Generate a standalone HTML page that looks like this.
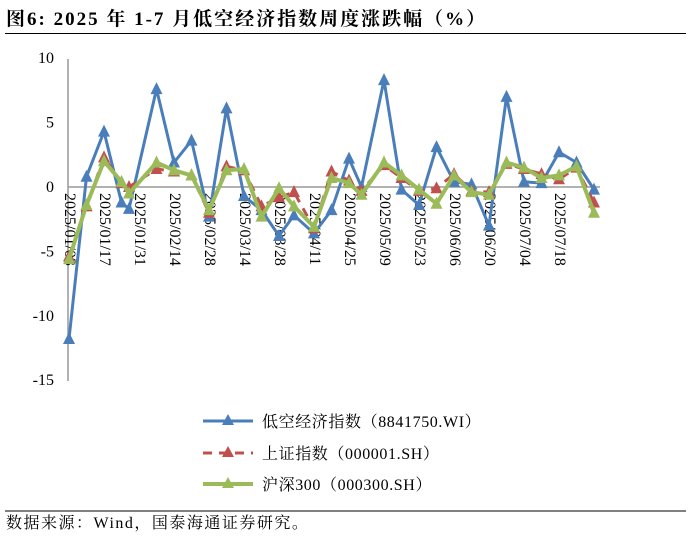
<!DOCTYPE html>
<html><head><meta charset="utf-8"><style>
body{margin:0;background:#fff;}
svg text{font-family:"Liberation Serif","Noto Serif CJK SC","Noto Sans CJK SC",serif;}
</style></head><body>
<svg id="chart" width="691" height="541" viewBox="0 0 691 541" xmlns="http://www.w3.org/2000/svg">
<text x="6" y="25" font-size="19" font-weight="bold" letter-spacing="2" fill="#000">图6:  2025 年 1-7 月低空经济指数周度涨跌幅（%）</text>
<line x1="5" y1="33.5" x2="686" y2="33.5" stroke="#000" stroke-width="1"/>
<line x1="68" y1="59" x2="68" y2="381" stroke="#999" stroke-width="1.5"/>
<g id="yticks"></g>
<g id="xlabels"></g>
<line id="zero" x1="68" x2="600" stroke="#999" stroke-width="1.5"/>
<g id="series"></g>
<g>
 <g>
  <line x1="203" y1="421" x2="253" y2="421" stroke="#4a7ebb" stroke-width="3"/>
  <polygon points="228,414 222,425 234,425" fill="#4a7ebb"/>
  <text x="262" y="427" font-size="16" letter-spacing="0.6">低空经济指数（8841750.WI）</text>
 </g>
 <g>
  <line x1="203" y1="453" x2="253" y2="453" stroke="#c0504d" stroke-width="3" stroke-dasharray="9,7"/>
  <polygon points="228,446 222,457 234,457" fill="#c0504d"/>
  <text x="262" y="459" font-size="16" letter-spacing="0.6">上证指数（000001.SH）</text>
 </g>
 <g>
  <line x1="203" y1="484" x2="253" y2="484" stroke="#9bbb59" stroke-width="4"/>
  <polygon points="228,477 222,488 234,488" fill="#9bbb59"/>
  <text x="262" y="490" font-size="16" letter-spacing="0.6">沪深300（000300.SH）</text>
 </g>
</g>
<line x1="5" y1="511" x2="686" y2="511" stroke="#000" stroke-width="1"/>
<text x="6" y="528" font-size="16" letter-spacing="1.5">数据来源：Wind，国泰海通证券研究。</text>
</svg>
<script>
const dates = ["2025/01/03","2025/01/10","2025/01/17","2025/01/24","2025/01/27","2025/02/07","2025/02/14","2025/02/21","2025/02/28","2025/03/07","2025/03/14","2025/03/21","2025/03/28","2025/04/03","2025/04/11","2025/04/18","2025/04/25","2025/04/30","2025/05/09","2025/05/16","2025/05/23","2025/05/30","2025/06/06","2025/06/13","2025/06/20","2025/06/27","2025/07/04","2025/07/11","2025/07/18","2025/07/25","2025/08/01"];
const lowAltitude = [-11.8,0.8,4.3,-1.2,-1.7,7.6,1.9,3.6,-2.3,6.1,-0.7,-1.8,-3.8,-2.2,-3.6,-1.8,2.2,0.0,8.3,-0.2,-1.4,3.1,0.4,0.2,-3.0,7.0,0.4,0.3,2.7,1.9,-0.2];
const sse = [-5.4,-1.5,2.3,0.3,0.0,1.4,1.2,0.9,-2.0,1.6,1.3,-1.5,-0.8,-0.4,-3.2,1.2,0.5,-0.3,1.7,0.7,-0.3,-0.1,1.0,-0.3,-0.4,1.8,1.4,1.0,0.6,1.5,-1.2];
const csi300 = [-5.6,-1.4,2.0,0.4,-0.5,1.9,1.3,0.9,-1.8,1.3,1.4,-2.3,-0.1,-1.5,-3.1,0.7,0.3,-0.6,1.9,0.9,-0.2,-1.3,0.9,-0.4,-0.6,1.9,1.5,0.7,0.9,1.6,-2.0];
const yTicks = [10,5,0,-5,-10,-15];
const xTickLabels = ["2025/01/03","2025/01/17","2025/01/31","2025/02/14","2025/02/28","2025/03/14","2025/03/28","2025/04/11","2025/04/25","2025/05/09","2025/05/23","2025/06/06","2025/06/20","2025/07/04","2025/07/18"];

const NS="http://www.w3.org/2000/svg";
const t0 = Date.UTC(2025,0,3);
function dayOf(s){const p=s.split('/');return (Date.UTC(+p[0],+p[1]-1,+p[2])-t0)/86400000;}
function xScale(s){return 69+dayOf(s)*2.5;}
function yScale(v){return 187-v*12.88;}

const yg=document.getElementById('yticks');
yTicks.forEach(v=>{
  const t=document.createElementNS(NS,'text');
  
  
  t.setAttribute('x',54);t.setAttribute('y',yScale(v)+5);
  t.setAttribute('text-anchor','end');t.setAttribute('font-size','16');
  t.textContent=v;yg.appendChild(t);
});
document.getElementById('zero').setAttribute('y1',yScale(0));
document.getElementById('zero').setAttribute('y2',yScale(0));
const xg=document.getElementById('xlabels');
xTickLabels.forEach(s=>{
  const x=xScale(s);
  const t=document.createElementNS(NS,'text');
  
  
  t.setAttribute('font-size','16');
  t.setAttribute('transform','translate('+(x-4)+','+(yScale(0)+6)+') rotate(90)');
  t.textContent=s;xg.appendChild(t);
});
const sg=document.getElementById('series');
function drawSeries(vals,color,width,dash,name){
  const g=document.createElementNS(NS,'g');
  
  
  const pts=vals.map((v,i)=>xScale(dates[i]).toFixed(1)+','+yScale(v).toFixed(1)).join(' ');
  const pl=document.createElementNS(NS,'polyline');
  
  
  pl.setAttribute('points',pts);pl.setAttribute('fill','none');
  pl.setAttribute('stroke',color);pl.setAttribute('stroke-width',width);
  pl.setAttribute('stroke-linejoin','round');
  if(dash)pl.setAttribute('stroke-dasharray',dash);
  g.appendChild(pl);
  vals.forEach((v,i)=>{
    const x=xScale(dates[i]),y=yScale(v);
    const m=document.createElementNS(NS,'polygon');
    
    
    m.setAttribute('points',x+','+(y-7)+' '+(x-6)+','+(y+5)+' '+(x+6)+','+(y+5));
    m.setAttribute('fill',color);
    g.appendChild(m);
  });
  sg.appendChild(g);
}
drawSeries(lowAltitude,'#4a7ebb',3,null,'low-altitude-series');
drawSeries(sse,'#c0504d',3,'9,7','sse-series');
drawSeries(csi300,'#9bbb59',4,null,'csi300-series');
</script>
</body></html>
